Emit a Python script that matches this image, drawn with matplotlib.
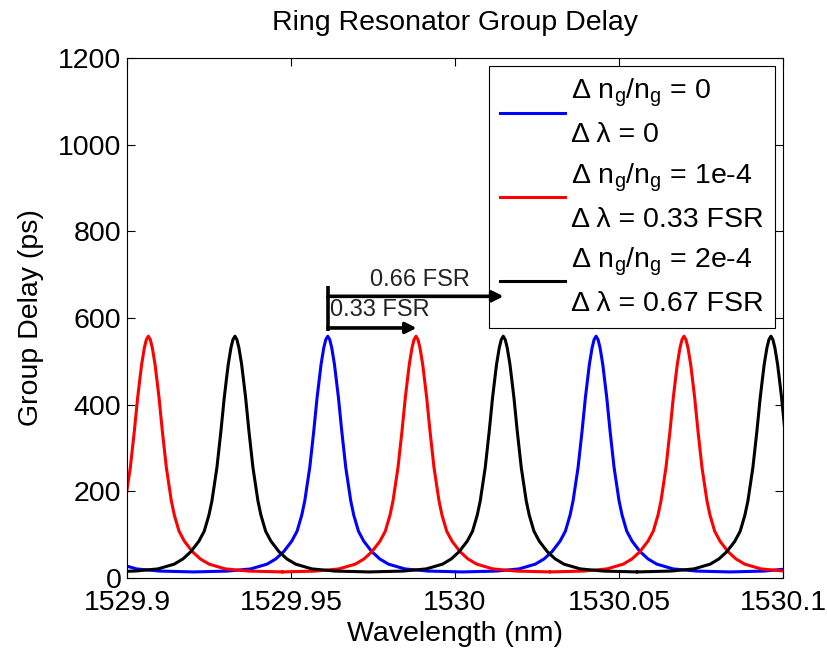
import numpy as np
import matplotlib
matplotlib.use('Agg')
import matplotlib.pyplot as plt

plt.rcParams['font.family'] = ['Liberation Sans', 'DejaVu Sans']
plt.rcParams['mathtext.fontset'] = 'custom'
plt.rcParams['mathtext.rm'] = 'Liberation Sans'
plt.rcParams['mathtext.it'] = 'Liberation Sans:italic'

# one resonance peak: offset from peak (nm) vs group delay (ps)
profile_offset = [0, 0.00061, 0.00122, 0.00204, 0.00265, 0.00326, 0.00427, 0.00549,
                  0.00701, 0.00793, 0.00936, 0.01098, 0.01341, 0.01585, 0.01851,
                  0.02348, 0.03049, 0.04085]
profile_delay = [558, 550, 531, 493, 455, 416, 339, 255, 178, 145, 108, 85, 61, 44,
                 32, 21, 16, 14]

# resonance wavelengths of each case (nm)
peaks_blue = [1529.8794, 1529.9612, 1530.0430, 1530.1247]
peaks_red = [1529.9065, 1529.9881, 1530.0698]
peaks_black = [1529.9329, 1530.0147, 1530.0963]

labels = ['Δ n$_{\\mathrm{g}}$/n$_{\\mathrm{g}}$ = 0\nΔ λ = 0',
          'Δ n$_{\\mathrm{g}}$/n$_{\\mathrm{g}}$ = 1e-4\nΔ λ = 0.33 FSR',
          'Δ n$_{\\mathrm{g}}$/n$_{\\mathrm{g}}$ = 2e-4\nΔ λ = 0.67 FSR']

xticks = [1529.9, 1529.95, 1530, 1530.05, 1530.1]
xticklabels = ['1529.9', '1529.95', '1530', '1530.05', '1530.1']
yticks = [0, 200, 400, 600, 800, 1000, 1200]


def build_curve(centers):
    off = np.array(profile_offset)
    val = np.array(profile_delay)
    xs, ys = [], []
    for c in centers:
        xs.append(np.concatenate([c - off[::-1], c + off[1:]]))
        ys.append(np.concatenate([val[::-1], val[1:]]))
    return np.concatenate(xs), np.concatenate(ys)


fig = plt.figure(figsize=(8.28, 6.56), dpi=100)
ax = fig.add_axes([0.1534, 0.1189, 0.7923, 0.7927])

for centers, color, lab in zip([peaks_blue, peaks_red, peaks_black],
                               ['#0000ff', '#ff0000', '#000000'], labels):
    x, y = build_curve(centers)
    ax.plot(x, y, color=color, lw=2.2, label=lab)

ax.set_xlim(1529.9, 1530.1)
ax.set_ylim(0, 1200)
ax.set_xticks(xticks)
ax.set_xticklabels(xticklabels)
ax.set_yticks(yticks)
ax.tick_params(direction='in', top=True, right=True, length=6, width=0.8,
               labelsize=20.5, pad=4)
ax.tick_params(axis='x', pad=8.5)
for s in ax.spines.values():
    s.set_linewidth(0.8)

ax.set_xlabel('Wavelength (nm)', fontsize=20.5, labelpad=4)
ax.set_ylabel('Group Delay (ps)', fontsize=20.5, labelpad=10)
ax.set_title('Ring Resonator Group Delay', fontsize=20.5, pad=20)

leg = ax.legend(loc='upper right', bbox_to_anchor=(0.988, 0.985), borderaxespad=0,
                fontsize=20.5, handlelength=2.3, handletextpad=0.2, borderpad=0.4,
                labelspacing=0.45, fancybox=False, framealpha=1, edgecolor='k')
leg.get_frame().set_linewidth(0.8)
for t in leg.get_texts():
    t.set_linespacing(1.65)

# shift arrows, drawn over the legend box like in the original
x0 = peaks_blue[1]
ax.plot([x0, x0], [570, 673], color='k', lw=2.6, solid_capstyle='butt', zorder=6)
ax.annotate('', xy=(1530.0148, 650), xytext=(x0, 650), zorder=6,
            arrowprops=dict(arrowstyle='-|>', lw=2.6, color='k', mutation_scale=16,
                            shrinkA=0, shrinkB=0))
ax.annotate('', xy=(1529.9883, 577), xytext=(x0, 577), zorder=6,
            arrowprops=dict(arrowstyle='-|>', lw=2.6, color='k', mutation_scale=16,
                            shrinkA=0, shrinkB=0))
ax.text(1529.9741, 688, '0.66 FSR', fontsize=17, color='#222222', va='center')
ax.text(1529.9619, 618, '0.33 FSR', fontsize=17, color='#222222', va='center')

fig.savefig('out.png', dpi=100)
